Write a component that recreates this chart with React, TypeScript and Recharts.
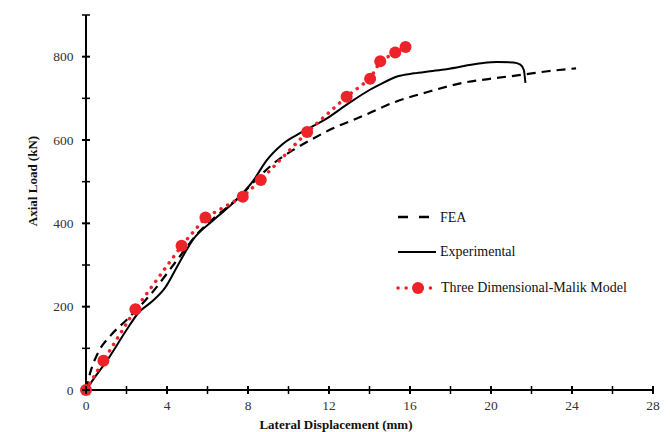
import React from 'react';
import { LineChart, Line, XAxis, YAxis } from 'recharts';

const FONT = '"Liberation Serif", "Times New Roman", serif';
const RED = '#ee2229';

const xTicks = [0, 2, 4, 6, 8, 10, 12, 14, 16, 18, 20, 22, 24, 26, 28];
const xLabeled = [0, 4, 8, 12, 16, 20, 24, 28];
const yTicks = [0, 100, 200, 300, 400, 500, 600, 700, 800, 900];
const yLabeled = [0, 200, 400, 600, 800];

const seriesNames = ['FEA', 'Experimental', 'Three Dimensional-Malik Model'];

const feaX = [0, 0.2, 0.6, 1.2, 2.0, 3.2, 4.5, 5.5, 6.5, 7.5, 8.4, 9.4, 10.3, 11.2, 12.2, 13.4, 15.3, 17.0, 18.6, 20.3, 21.6, 22.8, 24.2];
const feaY = [0, 40, 90, 130, 168, 230, 312, 375, 420, 460, 505, 549, 578, 603, 628, 652, 692, 717, 737, 749, 757, 765, 772];

const expX = [0, 0.5, 1.0, 2.0, 2.6, 3.3, 3.9, 4.6, 5.3, 6.3, 7.4, 8.3, 8.9, 9.7, 10.7, 11.9, 13.0, 14.0, 14.5, 15.4, 16.2, 17.0, 17.8, 19.5, 20.3, 21.1, 21.45, 21.62, 21.7];
const expY = [0, 35, 68, 144, 186, 214, 245, 305, 362, 408, 455, 505, 550, 590, 620, 652, 689, 720, 733, 753, 760, 765, 770, 784, 787, 786, 781, 768, 737];

const malikX = [0, 0.86, 2.44, 4.72, 5.9, 7.74, 8.63, 10.92, 12.87, 14.03, 14.53, 15.27, 15.78];
const malikY = [0, 70, 194, 346, 414, 464, 504, 619, 704, 747, 789, 810, 823];

const feaData = feaX.map((x, i) => ({ x, y: feaY[i] }));
const expData = expX.map((x, i) => ({ x, y: expY[i] }));
const malikData = malikX.map((x, i) => ({ x, y: malikY[i] }));

const XTick = (props: any) => {
  const { x, y, payload } = props;
  const major = xLabeled.includes(payload.value);
  return (
    <g>
      <line x1={x} x2={x} y1={y - 4} y2={y + 4} stroke="#000" strokeWidth={major ? 2 : 1.5} />
      {major && (
        <text x={x} y={y + 20} textAnchor="middle" fontSize={13.5} fill="#333" fontFamily={FONT}>
          {payload.value}
        </text>
      )}
    </g>
  );
};

const YTick = (props: any) => {
  const { x, y, payload } = props;
  const major = yLabeled.includes(payload.value);
  return (
    <g>
      <line x1={x - 4} x2={x + 4} y1={y} y2={y} stroke="#000" strokeWidth={major ? 2 : 1.5} />
      {major && (
        <text x={x - 12.5} y={y + 4.5} textAnchor="end" fontSize={13.5} fill="#333" fontFamily={FONT}>
          {payload.value}
        </text>
      )}
    </g>
  );
};

export default function App() {
  return (
    <div style={{ position: 'absolute', left: 0, top: 0, width: 670, height: 432, background: '#fff' }}>
      <LineChart
        width={670}
        height={432}
        margin={{ top: 15, right: 17, bottom: 0, left: 0 }}
        style={{ position: 'absolute', left: 0, top: 0 }}
      >
        <XAxis
          type="number"
          dataKey="x"
          domain={[0, 28]}
          ticks={xTicks}
          interval={0}
          tickSize={0}
          tickMargin={0}
          tickLine={false}
          tick={<XTick />}
          axisLine={{ stroke: '#000', strokeWidth: 2 }}
          height={42}
        />
        <YAxis
          type="number"
          dataKey="y"
          domain={[0, 900]}
          ticks={yTicks}
          interval={0}
          tickSize={0}
          tickMargin={0}
          tickLine={false}
          tick={<YTick />}
          axisLine={{ stroke: '#000', strokeWidth: 2 }}
          width={86}
        />
        <Line
          data={feaData}
          dataKey="y"
          type="monotone"
          stroke="#000"
          strokeWidth={2.2}
          strokeDasharray="9 6"
          dot={false}
          isAnimationActive={false}
        />
        <Line
          data={expData}
          dataKey="y"
          type="monotone"
          stroke="#000"
          strokeWidth={2}
          dot={false}
          isAnimationActive={false}
        />
        <Line
          data={malikData}
          dataKey="y"
          type="linear"
          stroke={RED}
          strokeWidth={3.5}
          strokeDasharray="0.1 7.5"
          strokeLinecap="round"
          dot={{ r: 6, fill: RED, stroke: 'none' }}
          isAnimationActive={false}
        />
      </LineChart>
      <svg
        width={670}
        height={432}
        style={{ position: 'absolute', left: 0, top: 0, pointerEvents: 'none' }}
      >
        <text
          x={32}
          y={181}
          transform="rotate(-90 32 181)"
          textAnchor="middle"
          dominantBaseline="central"
          fontSize={13}
          fontWeight="bold"
          fill="#111"
          fontFamily={FONT}
        >
          Axial Load (kN)
        </text>
        <text x={336} y={429} textAnchor="middle" fontSize={13} fontWeight="bold" fill="#111" fontFamily={FONT}>
          Lateral Displacement (mm)
        </text>
        {/* legend */}
        <line x1={398} x2={430} y1={217} y2={217} stroke="#000" strokeWidth={2.5} strokeDasharray="10 11" />
        <text x={440} y={222} fontSize={14} fill="#111" fontFamily={FONT}>{seriesNames[0]}</text>
        <line x1={398} x2={436} y1={252} y2={252} stroke="#000" strokeWidth={2} />
        <text x={440} y={256} fontSize={14} fill="#111" fontFamily={FONT}>{seriesNames[1]}</text>
        <line x1={398} x2={434} y1={288} y2={288} stroke={RED} strokeWidth={3.5} strokeDasharray="0.1 8" strokeLinecap="round" />
        <circle cx={418} cy={288} r={6} fill={RED} />
        <text x={441} y={292} fontSize={14} fill="#111" fontFamily={FONT}>{seriesNames[2]}</text>
      </svg>
    </div>
  );
}
